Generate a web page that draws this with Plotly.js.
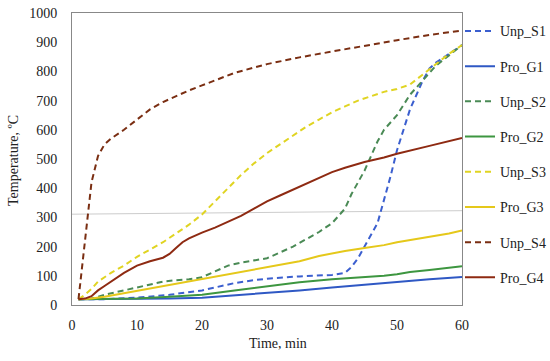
<!DOCTYPE html>
<html><head><meta charset="utf-8">
<script src="https://cdn.plot.ly/plotly-3.0.1.min.js"></script>
<style>body{margin:0;padding:0;background:#fff}#chart{width:550px;height:361px}</style>
</head><body><div id="chart"></div>
<script>
const tS1 = [1,5,10,15,20,25,28,30,35,40,42,43,44,45,46,47,48,49,50,51,52,53,54,55,56,58,60];
const Unp_S1 = [20,20,25,35,50,75,85,90,98,103,110,130,160,200,240,280,360,440,530,600,670,720,770,810,830,860,890];
const tG1 = [1,10,15,20,25,30,35,40,45,50,55,60];
const Pro_G1 = [20,20,22,25,33,40,50,60,70,80,88,96];
const tS2 = [1,3,5,8,10,12,14,16,18,20,22,24,26,28,30,32,34,36,38,40,42,43,44,45,46,47,48,50,52,54,56,58,60];
const Unp_S2 = [20,22,35,50,62,72,80,85,88,95,115,135,145,152,160,180,200,225,250,280,330,380,420,460,510,560,600,650,720,770,820,855,890];
const tG2 = [1,5,10,15,20,25,30,35,40,45,48,50,52,55,58,60];
const Pro_G2 = [20,20,22,28,35,50,65,78,88,95,100,105,113,120,127,133];
const tS3 = [1,2,3,4,5,6,8,10,12,14,16,18,20,22,24,26,28,30,32,34,36,38,40,42,44,46,48,50,52,54,56,58,60];
const Unp_S3 = [20,35,55,80,95,110,135,165,190,215,245,275,310,355,400,445,485,520,550,580,610,635,660,680,700,715,730,740,755,790,825,860,890];
const tG3 = [1,3,5,8,10,12,15,18,20,22,25,28,30,32,35,38,40,42,45,48,50,52,55,58,60];
const Pro_G3 = [20,22,28,40,50,58,70,80,88,97,108,120,128,136,150,168,177,185,195,205,215,222,232,245,255];
const tS4 = [1,2,3,4,5,6,7,8,10,12,14,16,18,20,25,30,35,40,45,50,55,60];
const Unp_S4 = [20,230,420,510,550,570,585,600,635,670,695,715,735,752,795,825,848,868,888,907,925,940];
const tG4 = [1,2,3,4,5,6,8,10,12,14,15,16,17,18,20,22,24,26,28,30,32,35,38,40,42,45,48,50,55,60];
const Pro_G4 = [20,22,30,50,65,80,110,135,150,162,175,195,215,228,248,265,285,305,330,355,375,405,435,455,470,490,505,518,545,572];
const refX = [0,60];
const refY = [311,323];
const xTitle = 'Time, min';
const yTitle = 'Temperature, ºC';

const DASH = '6px,4px';
function tr(name, x, y, color, dashed, grp){
  return {x:x, y:y, name:name, type:'scatter', mode:'lines', legendgroup:grp,
    line:{color:color, width:2, dash: dashed?DASH:'solid'}};
}
const data = [
  tr('Unp_S1', tS1, Unp_S1, '#3b5fcf', true, 'a'),
  tr('Pro_G1', tG1, Pro_G1, '#2f58c4', false, 'b'),
  tr('Unp_S2', tS2, Unp_S2, '#4a8a55', true, 'c'),
  tr('Pro_G2', tG2, Pro_G2, '#3d9640', false, 'd'),
  tr('Unp_S3', tS3, Unp_S3, '#e0d422', true, 'e'),
  tr('Pro_G3', tG3, Pro_G3, '#e5c81a', false, 'f'),
  tr('Unp_S4', tS4, Unp_S4, '#7a2e12', true, 'g'),
  tr('Pro_G4', tG4, Pro_G4, '#8e2a12', false, 'h')
];
const font = {family:'Liberation Serif, DejaVu Serif, serif', size:14, color:'#222'};
const W = 550, H = 361, L = 72, R = 88, T = 13, B = 56;
const pw = W - L - R, ph = H - T - B;
const layout = {
  width:W, height:H,
  margin:{l:L, r:R, t:T, b:B, autoexpand:false},
  paper_bgcolor:'#fff', plot_bgcolor:'#fff',
  font: font,
  showlegend:true,
  legend:{x:(460-L)/pw, xanchor:'left', y:0.992, yanchor:'top', font:{family:font.family, size:14, color:'#222'},
    tracegroupgap:14, itemwidth:30, bgcolor:'rgba(0,0,0,0)'},
  xaxis:{range:[0,60], dtick:10, showgrid:false, zeroline:false, showline:true, linecolor:'#888', linewidth:1, mirror:true,
    ticks:'', tickfont:font, ticklabelstandoff:7},
  yaxis:{range:[0,1000], dtick:100, showgrid:false, zeroline:false, showline:true, linecolor:'#888', linewidth:1, mirror:true,
    ticks:'', tickfont:font, ticklabelstandoff:11},
  annotations:[
    {text:xTitle, xref:'paper', yref:'paper', x:(278-L)/pw, y:-(343-T-ph)/ph, xanchor:'center', yanchor:'middle', showarrow:false, font:font},
    {text:yTitle, xref:'paper', yref:'paper', x:(13-L)/pw, y:(T+ph-161)/ph, xanchor:'center', yanchor:'middle', textangle:-90, showarrow:false, font:font}
  ],
  shapes:[{type:'line', xref:'x', yref:'y', x0:refX[0], x1:refX[1], y0:refY[0], y1:refY[1], line:{color:'#ccc', width:1}, layer:'below'}]
};
Plotly.newPlot('chart', data, layout, {displayModeBar:false, staticPlot:true});
</script></body></html>
